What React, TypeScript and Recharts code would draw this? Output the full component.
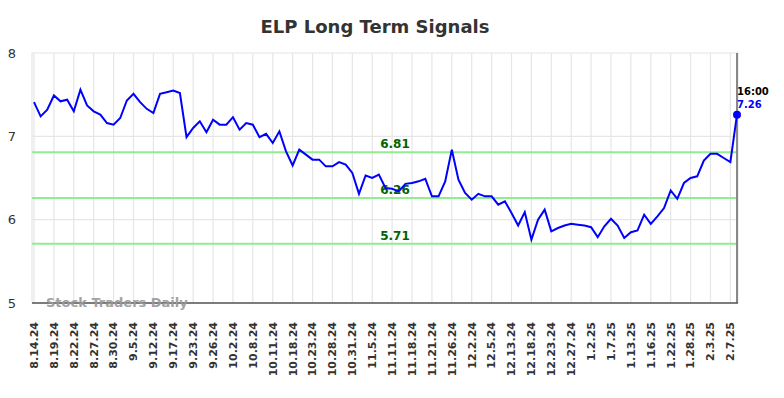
import { CartesianGrid, Line, LineChart, ReferenceLine, XAxis, YAxis } from 'recharts';

const TICK_LABELS = [
  '8.14.24', '8.19.24', '8.22.24', '8.27.24', '8.30.24', '9.5.24', '9.12.24', '9.17.24', '9.23.24',
  '9.26.24', '10.2.24', '10.8.24', '10.11.24', '10.18.24', '10.23.24', '10.28.24', '10.31.24',
  '11.5.24', '11.11.24', '11.18.24', '11.21.24', '11.26.24', '12.2.24', '12.5.24', '12.13.24',
  '12.18.24', '12.23.24', '12.27.24', '1.2.25', '1.7.25', '1.13.25', '1.16.25', '1.22.25',
  '1.28.25', '2.3.25', '2.7.25',
];

const PRICES = [
  7.41, 7.24, 7.32, 7.49, 7.42, 7.44, 7.3, 7.56, 7.37, 7.3, 7.26, 7.16, 7.14, 7.22, 7.43, 7.51,
  7.41, 7.33, 7.28, 7.51, 7.53, 7.55, 7.52, 6.99, 7.1, 7.18, 7.05, 7.2, 7.14, 7.14, 7.23, 7.08,
  7.16, 7.14, 6.99, 7.03, 6.92, 7.06, 6.82, 6.65, 6.84, 6.78, 6.72, 6.72, 6.64, 6.64, 6.69, 6.66,
  6.56, 6.31, 6.53, 6.5, 6.54, 6.38, 6.37, 6.34, 6.43, 6.44, 6.46, 6.49, 6.28, 6.28, 6.46, 6.84,
  6.48, 6.32, 6.24, 6.31, 6.28, 6.28, 6.18, 6.22, 6.08, 5.93, 6.09, 5.76, 6.0, 6.12, 5.86, 5.9,
  5.93, 5.95, 5.94, 5.93, 5.91, 5.79, 5.92, 6.01, 5.93, 5.78, 5.85, 5.87, 6.06, 5.95, 6.04, 6.14,
  6.35, 6.25, 6.44, 6.5, 6.52, 6.71, 6.79, 6.79, 6.74, 6.69, 7.26,
];

const LEVELS = [6.81, 6.26, 5.71];
const LAST_TIME = '16:00';

const FONT = '"DejaVu Sans", sans-serif';
const data = PRICES.map((price, i) => ({ i, price }));
const lastIndex = PRICES.length - 1;
const xTicks = TICK_LABELS.map((_, k) => k * 3);

function XTick({ x, y, payload }: any) {
  return (
    <g transform={`translate(${x},${y})`}>
      <text transform="rotate(-90)" textAnchor="end" dy="0.35em" fontSize={11} fontWeight="bold" fill="#333" fontFamily={FONT}>
        {TICK_LABELS[payload.value / 3]}
      </text>
    </g>
  );
}

function LevelLabel({ viewBox, value }: any) {
  const cx = viewBox.x + viewBox.width / 2 + 10;
  return (
    <text x={cx} y={viewBox.y - 4} textAnchor="middle" fontSize={12} fontWeight="bold" fill="#006400" fontFamily={FONT}>
      {value}
    </text>
  );
}

function LastDot(props: any) {
  const { cx, cy, index } = props;
  if (index !== lastIndex) return <g key={`d${index}`} />;
  return (
    <g key={`d${index}`}>
      <circle cx={cx} cy={cy} r={4} fill="#0000ff" />
      <text x={cx} y={cy - 20} fontSize={10} fontWeight="bold" fill="#000" fontFamily={FONT}>
        {LAST_TIME}
      </text>
      <text x={cx} y={cy - 7} fontSize={10} fontWeight="bold" fill="#0000ff" fontFamily={FONT}>
        {PRICES[lastIndex].toFixed(2)}
      </text>
    </g>
  );
}

export default function App() {
  return (
    <div style={{ position: 'relative', width: 776, height: 390, fontFamily: FONT }}>
      <div
        style={{
          position: 'absolute', top: 8, left: 0, width: 734, textAlign: 'center',
          fontSize: 18, lineHeight: '22px', fontWeight: 'bold', color: '#333',
        }}
      >
        ELP Long Term Signals
      </div>
      <LineChart width={776} height={390} data={data} margin={{ top: 45, right: 46, bottom: 0, left: 0 }}>
        <CartesianGrid stroke="#e6e6e6" strokeWidth={1.2} />
        <XAxis
          dataKey="i"
          type="number"
          domain={[0, lastIndex]}
          ticks={xTicks}
          interval={0}
          padding={{ left: 2, right: 1 }}
          height={95}
          tickSize={0}
          tickMargin={19}
          tickLine={false}
          axisLine={{ stroke: '#555', strokeWidth: 1.5 }}
          tick={<XTick />}
        />
        <YAxis
          domain={[5, 8]}
          ticks={[5, 6, 7, 8]}
          width={24}
          tickSize={0}
          tickMargin={16}
          tickLine={false}
          axisLine={false}
          tick={{ fontSize: 13, fill: '#333', fontFamily: FONT }}
        />
        {LEVELS.map((lv) => (
          <ReferenceLine key={lv} y={lv} stroke="#90ee90" strokeWidth={2} label={<LevelLabel value={lv.toFixed(2)} />} />
        ))}
        <ReferenceLine x={lastIndex} stroke="#888" strokeWidth={2} />
        <Line
          type="linear"
          dataKey="price"
          stroke="#0000ff"
          strokeWidth={2}
          dot={LastDot}
          activeDot={false}
          isAnimationActive={false}
        />
      </LineChart>
      <div
        style={{
          position: 'absolute', top: 287, left: 38, fontSize: 13, lineHeight: '16px',
          fontWeight: 'bold', color: '#999', opacity: 0.9,
        }}
      >
        Stock Traders Daily
      </div>
    </div>
  );
}
